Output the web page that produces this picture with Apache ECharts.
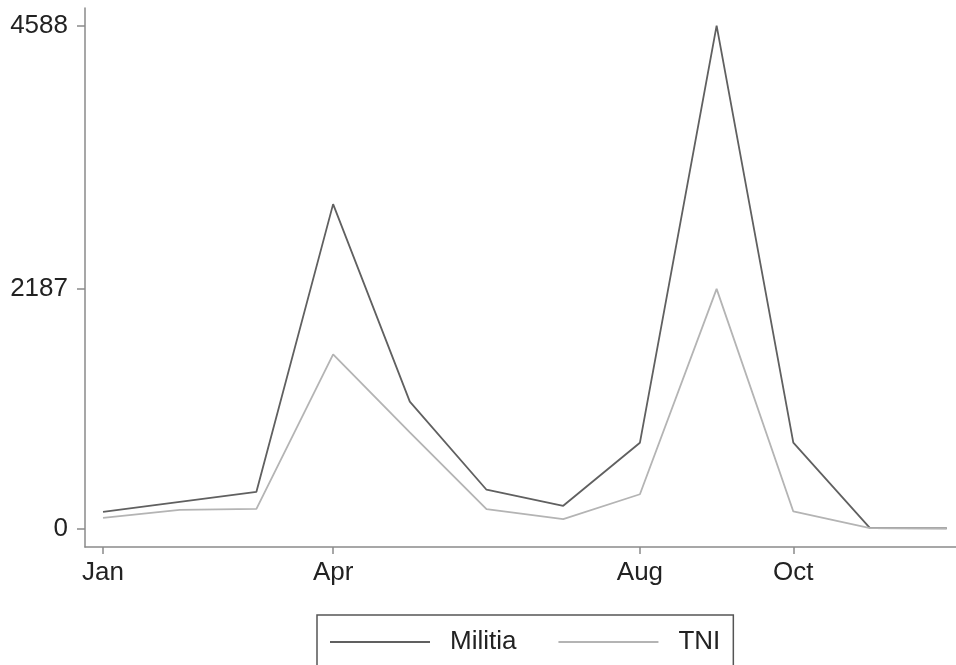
<!DOCTYPE html>
<html>
<head>
<meta charset="utf-8">
<script src="https://cdn.jsdelivr.net/npm/echarts@6/dist/echarts.min.js"></script>
<style>html,body{margin:0;padding:0;background:#fff}#c{width:956px;height:665px}</style>
</head>
<body>
<div id="c"></div>
<script>
var months = ['Jan','Feb','Mar','Apr','May','Jun','Jul','Aug','Sep','Oct','Nov','Dec'];
var monthIndex = [1,2,3,4,5,6,7,8,9,10,11,12];
var militia = [155, 246, 337, 2960, 1160, 356, 210, 785, 4588, 785, 6, 5];
var tni = [100, 173, 182, 1590, 880, 180, 88, 315, 2187, 158, 6, 5];
var xTickValues = [1, 4, 8, 10];
var yTickValues = [0, 2187, 4588];

function pairs(vals){ return vals.map(function(v,i){ return [monthIndex[i], v]; }); }

var chart = echarts.init(document.getElementById('c'));
var labelFont = {fontFamily:'Liberation Sans, Arial, sans-serif', fontSize:26, color:'#222'};
chart.setOption({
  animation:false,
  backgroundColor:'#fff',
  grid:{left:85, right:0, top:8, bottom:118, containLabel:false},
  xAxis:{
    type:'value', min:0.765, max:12.121,
    splitLine:{show:false},
    axisLine:{show:true, onZero:false, lineStyle:{color:'#8a8a8a', width:1.5}},
    axisTick:{show:true, customValues:xTickValues, length:7, lineStyle:{color:'#8a8a8a', width:1.5}},
    axisLabel:Object.assign({show:true, customValues:xTickValues, margin:13,
      formatter:function(v){ return months[Math.round(v)-1]; }}, labelFont)
  },
  yAxis:{
    type:'value', min:-166, max:4748,
    splitLine:{show:false},
    axisLine:{show:true, onZero:false, lineStyle:{color:'#8a8a8a', width:1.5}},
    axisTick:{show:true, customValues:yTickValues, length:8, lineStyle:{color:'#8a8a8a', width:1.5}},
    axisLabel:Object.assign({show:true, customValues:yTickValues, margin:17,
      formatter:function(v){ return String(Math.round(v)); }}, labelFont)
  },
  legend:{
    left:317, top:615,
    data:[{name:'Militia', icon:'rect'},{name:'TNI', icon:'rect'}],
    itemWidth:100, itemHeight:2, itemGap:42,
    padding:[14, 13, 40, 13],
    borderColor:'#555', borderWidth:1.5, backgroundColor:'#fff',
    textStyle:{fontFamily:'Liberation Sans, Arial, sans-serif', fontSize:26, color:'#222', padding:[0,0,0,15]}
  },
  series:[
    {name:'Militia', type:'line', data:pairs(militia), symbol:'none',
     lineStyle:{color:'#606060', width:1.8}, itemStyle:{color:'#606060'}},
    {name:'TNI', type:'line', data:pairs(tni), symbol:'none',
     lineStyle:{color:'#b4b4b4', width:1.8}, itemStyle:{color:'#b4b4b4'}}
  ]
});
</script>
</body>
</html>
